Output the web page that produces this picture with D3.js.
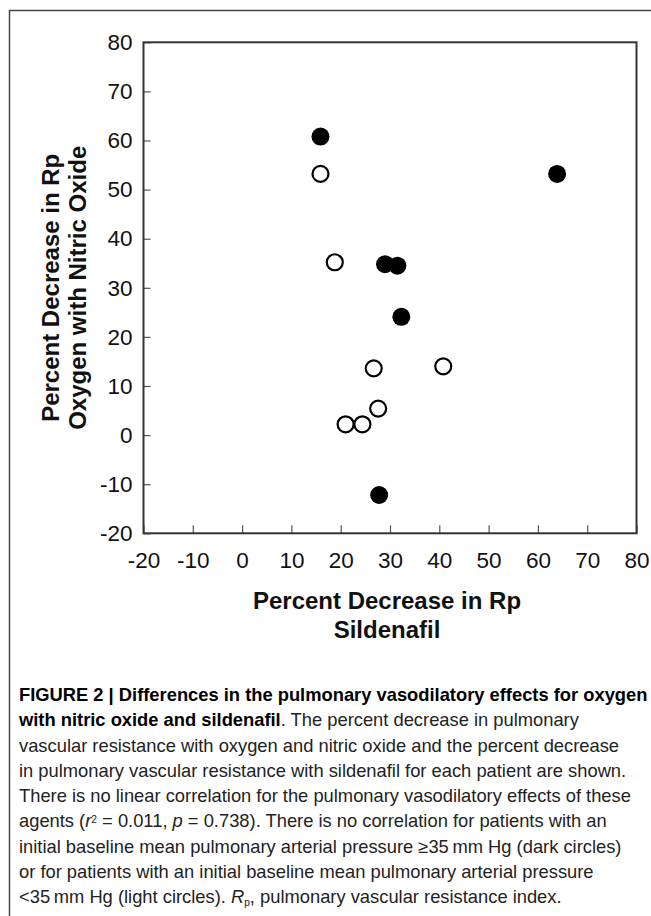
<!DOCTYPE html>
<html>
<head>
<meta charset="utf-8">
<script src="https://cdn.jsdelivr.net/npm/d3@7"></script>
<style>
  html, body { margin: 0; padding: 0; background: #fff; }
  svg { display: block; }
</style>
</head>
<body>
<svg id="chart" width="651" height="916"></svg>
<script>
// values
var highPressureX = [15.9, 63.9, 29.0, 31.5, 32.3, 27.8]
var highPressureY = [60.8, 53.2, 34.8, 34.5, 24.1, -12.2]
var lowPressureX = [15.9, 18.8, 26.7, 40.8, 27.6, 21.0, 24.4]
var lowPressureY = [53.2, 35.2, 13.6, 14.0, 5.4, 2.2, 2.2]

var xTicks = [-20, -10, 0, 10, 20, 30, 40, 50, 60, 70, 80]
var yTicks = [-20, -10, 0, 10, 20, 30, 40, 50, 60, 70, 80]

var xTitle = ["Percent Decrease in Rp", "Sildenafil"]
var yTitle = ["Percent Decrease in Rp", "Oxygen with Nitric Oxide"]

// caption, one entry per printed line, split into styled runs
var captionLines = [
  [["FIGURE 2 | Differences in the pulmonary vasodilatory effects for oxygen", "b"]],
  [["with nitric oxide and sildenafil", "b"], [". The percent decrease in pulmonary", ""]],
  [["vascular resistance with oxygen and nitric oxide and the percent decrease", ""]],
  [["in pulmonary vascular resistance with sildenafil for each patient are shown.", ""]],
  [["There is no linear correlation for the pulmonary vasodilatory effects of these", ""]],
  [["agents (", ""], ["r", "i"], ["2", "sup"], [" = 0.011, ", ""], ["p", "i"], [" = 0.738). There is no correlation for patients with an", ""]],
  [["initial baseline mean pulmonary arterial pressure \u226535\u2009mm Hg (dark circles)", ""]],
  [["or for patients with an initial baseline mean pulmonary arterial pressure", ""]],
  [["<35\u2009mm Hg (light circles). ", ""], ["R", "i"], ["p", "sub"], [", pulmonary vascular resistance index.", ""]]
]

var svg = d3.select("#chart")
var font = "'Liberation Sans', Arial, Helvetica, sans-serif"

svg.append("rect").attr("width", 651).attr("height", 916).attr("fill", "#fff")

// outer figure frame (only left and top edges are visible)
svg.append("path")
  .attr("d", "M9.5,916V10.5H651")
  .attr("fill", "none")
  .attr("stroke", "#444")
  .attr("stroke-width", 1.5)

var x = d3.scaleLinear().domain([-20, 80]).range([143.5, 636.5])
var y = d3.scaleLinear().domain([-20, 80]).range([533.3, 42.3])

var xAxis = svg.append("g")
  .attr("transform", "translate(0," + y(-20) + ")")
  .call(d3.axisBottom(x).tickValues(xTicks).tickSize(-8).tickPadding(19).tickFormat(d3.format("d")))
var yAxis = svg.append("g")
  .attr("transform", "translate(" + x(-20) + ",0)")
  .call(d3.axisLeft(y).tickValues(yTicks).tickSize(-7).tickPadding(11).tickFormat(d3.format("d")))

svg.selectAll(".domain").remove()
svg.selectAll(".tick line").attr("stroke", "#555").attr("stroke-width", 1.2)
svg.selectAll(".tick text")
  .attr("font-family", font)
  .attr("font-size", 22.5)
  .attr("fill", "#111")
  .text(function(d) { return d < 0 ? "-" + Math.abs(d) : d })

// plot box
svg.append("rect")
  .attr("x", x(-20)).attr("y", y(80))
  .attr("width", x(80) - x(-20)).attr("height", y(-20) - y(80))
  .attr("fill", "none")
  .attr("stroke", "#333")
  .attr("stroke-width", 2)

// light circles: baseline pressure < 35 mm Hg
svg.append("g").selectAll("circle")
  .data(d3.range(lowPressureX.length))
  .enter().append("circle")
  .attr("cx", function(i) { return x(lowPressureX[i]) })
  .attr("cy", function(i) { return y(lowPressureY[i]) })
  .attr("r", 8)
  .attr("fill", "#fff")
  .attr("stroke", "#000")
  .attr("stroke-width", 2.2)

// dark circles: baseline pressure >= 35 mm Hg
svg.append("g").selectAll("circle")
  .data(d3.range(highPressureX.length))
  .enter().append("circle")
  .attr("cx", function(i) { return x(highPressureX[i]) })
  .attr("cy", function(i) { return y(highPressureY[i]) })
  .attr("r", 9)
  .attr("fill", "#000")

// axis titles
svg.append("g").selectAll("text")
  .data(xTitle)
  .enter().append("text")
  .attr("x", (x(-20) + x(80)) / 2 - 3)
  .attr("y", function(d, i) { return 609 + i * 29 })
  .attr("text-anchor", "middle")
  .attr("font-family", font)
  .attr("font-weight", "bold")
  .attr("font-size", 24)
  .attr("fill", "#111")
  .text(function(d) { return d })

svg.append("g")
  .attr("transform", "translate(0," + (y(80) + y(-20)) / 2 + ") rotate(-90)")
  .selectAll("text")
  .data(yTitle)
  .enter().append("text")
  .attr("x", 0)
  .attr("y", function(d, i) { return 59 + i * 27 })
  .attr("text-anchor", "middle")
  .attr("font-family", font)
  .attr("font-weight", "bold")
  .attr("font-size", 24)
  .attr("fill", "#111")
  .text(function(d) { return d })

// caption, condensed horizontally to the printed width
var cap = svg.append("g")
var capFont = "'Liberation Sans Narrow', 'Liberation Sans', Arial, sans-serif"
captionLines.forEach(function(runs, i) {
  var t = cap.append("text")
    .attr("x", 0)
    .attr("y", 701 + i * 25.3)
    .attr("font-family", capFont)
    .attr("font-size", 18)
    .attr("fill", "#222")
  runs.forEach(function(r) {
    var s = t.append("tspan").text(r[0])
    if (r[1] == "b") s.attr("font-weight", "bold").attr("fill", "#000")
    if (r[1] == "i") s.attr("font-style", "italic")
    if (r[1] == "sup") s.attr("font-size", 10).attr("baseline-shift", "super")
    if (r[1] == "sub") s.attr("font-size", 10).attr("dy", 3)
  })
  // undo the subscript drop for the text that follows it
  t.selectAll("tspan").filter(function(d, j, n) { return j > 0 && d3.select(n[j - 1]).attr("dy") == 3 }).attr("dy", -3)
})
var widest = d3.max(cap.selectAll("text").nodes(), function(n) { return n.getComputedTextLength() })
cap.attr("transform", "translate(19,0) scale(" + (629 / widest) + ",1)")
</script>
</body>
</html>
